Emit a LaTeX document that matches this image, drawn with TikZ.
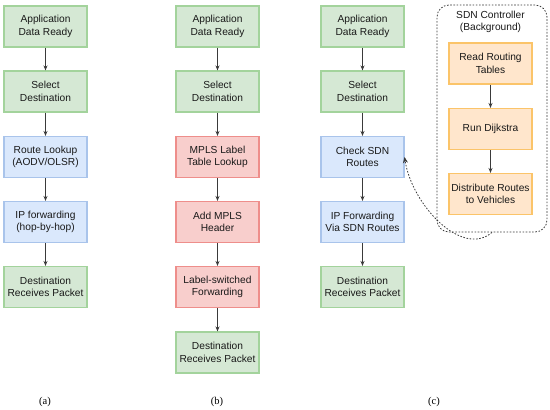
\documentclass[tikz,border=0pt]{standalone}
\usepackage{fontspec}
\setmainfont{Liberation Sans}
\newfontfamily\capfont{Liberation Serif}
\usetikzlibrary{arrows.meta}
\definecolor{greenfill}{HTML}{D5E8D4}
\definecolor{greenline}{HTML}{A3D39C}
\definecolor{bluefill}{HTML}{DAE8FC}
\definecolor{blueline}{HTML}{A9C4EB}
\definecolor{redfill}{HTML}{F8CECC}
\definecolor{redline}{HTML}{EE8E8B}
\definecolor{orangefill}{HTML}{FFE6CC}
\definecolor{orangeline}{HTML}{FBC469}
\definecolor{arrowgray}{HTML}{3A3A3A}

\begin{document}
\begin{tikzpicture}[
  x=1pt, y=-1pt,
  box/.style      = {rectangle, draw, line width=1.1pt, minimum width=83pt, minimum height=41pt, align=center, inner sep=2pt, text=black!90, font=\fontsize{10.2}{12.3}\selectfont},
  appstep/.style  = {box, fill=greenfill, draw=greenline},
  ipstep/.style   = {box, fill=bluefill, draw=blueline},
  mplsstep/.style = {box, fill=redfill, draw=redline},
  sdnstep/.style  = {box, fill=orangefill, draw=orangeline},
  arr/.style      = {-{Stealth[length=5pt,width=4pt]}, line width=0.9pt, draw=arrowgray},
  push/.style     = {-{Stealth[length=6pt,width=5pt]}, line width=0.8pt, draw=arrowgray, dash pattern=on 1.6pt off 1.6pt},
  caption/.style  = {font=\capfont\fontsize{10.5}{12}\selectfont},
]
\useasboundingbox (0,0) rectangle (550,410);
% Column (a): plain routing
\node[appstep] (a1) at (45.5,26.5) {Application\\Data Ready};
\node[appstep] (a2) at (45.5,91.5) {Select\\Destination};
\node[ipstep]  (a3) at (45.5,157) {Route Lookup\\(AODV/OLSR)};
\node[ipstep]  (a4) at (45.5,222) {IP forwarding\\(hop-by-hop)};
\node[appstep] (a5) at (45.5,287) {Destination\\Receives Packet};
% Column (b): MPLS
\node[appstep]  (b1) at (217.5,26.5) {Application\\Data Ready};
\node[appstep]  (b2) at (217.5,91.5) {Select\\Destination};
\node[mplsstep] (b3) at (217.5,157) {MPLS Label\\Table Lookup};
\node[mplsstep] (b4) at (217.5,222) {Add MPLS\\Header};
\node[mplsstep] (b5) at (217.5,287) {Label-switched\\Forwarding};
\node[appstep]  (b6) at (217.5,352.5) {Destination\\Receives Packet};
% Column (c): SDN
\node[appstep] (c1) at (362.5,26.5) {Application\\Data Ready};
\node[appstep] (c2) at (362.5,91.5) {Select\\Destination};
\node[ipstep]  (c3) at (362.5,157) {Check SDN\\Routes};
\node[ipstep]  (c4) at (362.5,222) {IP Forwarding\\Via SDN Routes};
\node[appstep] (c5) at (362.5,287) {Destination\\Receives Packet};
% SDN controller group
\node[draw=arrowgray, rounded corners=12pt, line width=0.8pt, dash pattern=on 1.6pt off 1.6pt, minimum width=110pt, minimum height=227pt] (ctrl) at (492,118.5) {};
\node[align=center, text=black!90, font=\fontsize{10.2}{12.3}\selectfont] (ctrltitle) at (490.5,22) {SDN Controller\\(Background)};
\node[sdnstep] (s1) at (490.5,63.5) {Read Routing\\Tables};
\node[sdnstep] (s2) at (490.5,129) {Run Dijkstra};
\node[sdnstep] (s3) at (490.5,194) {Distribute Routes\\to Vehicles};
% Arrows
\draw[arr] (a1) -- (a2);
\draw[arr] (a2) -- (a3);
\draw[arr] (a3) -- (a4);
\draw[arr] (a4) -- (a5);
\draw[arr] (b1) -- (b2);
\draw[arr] (b2) -- (b3);
\draw[arr] (b3) -- (b4);
\draw[arr] (b4) -- (b5);
\draw[arr] (b5) -- (b6);
\draw[arr] (c1) -- (c2);
\draw[arr] (c2) -- (c3);
\draw[arr] (c3) -- (c4);
\draw[arr] (c4) -- (c5);
\draw[arr] (s1) -- (s2);
\draw[arr] (s2) -- (s3);
% Controller pushes routes
\draw[push] (ctrl.south) .. controls (462,258) and (412,205) .. (c3.east);
% Captions
\node[caption] (capa) at (45,402) {(a)};
\node[caption] (capb) at (217,402) {(b)};
\node[caption] (capc) at (434,402) {(c)};
\end{tikzpicture}
\end{document}
